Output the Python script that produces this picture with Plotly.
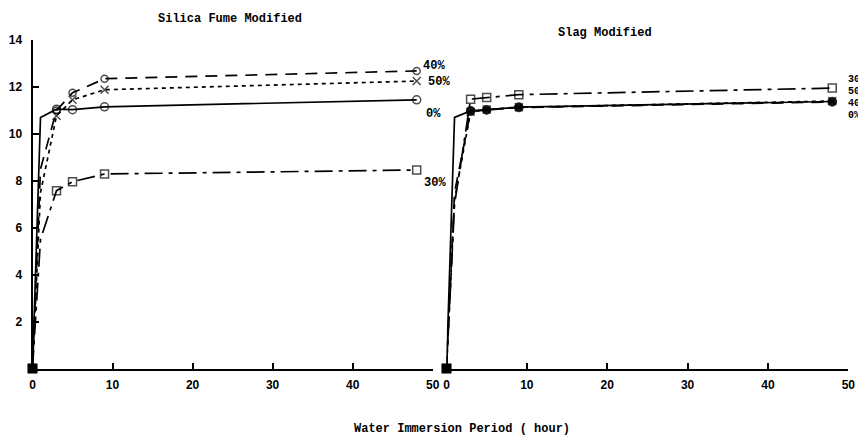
import plotly.graph_objects as go

# ---- data ----
hours = [0, 1, 3, 5, 9, 48]

# Silica Fume Modified
sf_0 = [0, 10.7, 11.05, 11.03, 11.15, 11.45]
sf_30 = [0, 5.5, 7.58, 7.96, 8.29, 8.46]
sf_40 = [0, 8.5, 11.0, 11.75, 12.35, 12.68]
sf_50 = [0, 7.5, 10.77, 11.45, 11.88, 12.25]

# Slag Modified
sl_0 = [0, 10.7, 10.98, 11.03, 11.14, 11.38]
sl_30 = [0, 7.0, 11.48, 11.55, 11.67, 11.95]
sl_40 = [0, 7.5, 10.96, 11.02, 11.12, 11.36]
sl_50 = [0, 7.2, 10.94, 11.04, 11.13, 11.40]

x_ticks = [0, 10, 20, 30, 40, 50]
y_ticks = [2, 4, 6, 8, 10, 12, 14]

labels_left = ["0%", "30%", "40%", "50%"]
labels_right = ["30%", "50%", "40%", "0%"]

W, H = 866, 441
OFF = 8  # page body margin
FONT = "Liberation Sans, Arial, sans-serif"
MONO = "Liberation Mono, DejaVu Sans Mono, monospace"

def px_x(p):
    return (p - OFF) / W

def px_y(p):
    return 1 - (p - OFF) / H

fig = go.Figure()

def add(x, y, dash, sym, size, xa, name):
    n = len(x)
    syms = ["square", "circle"] + [sym] * (n - 2)
    sizes = [8, 0] + [size] * (n - 2)
    fig.add_trace(go.Scatter(
        x=x, y=y, mode="lines+markers", name=name,
        line=dict(color="black", width=1.7, dash=dash),
        marker=dict(symbol=syms, size=sizes, color="black",
                    line=dict(color="black", width=1.5)),
        xaxis=xa, yaxis="y", cliponaxis=False, showlegend=False,
    ))

DASH = "12px,8px"
DOT = "4px,4px"
DASHDOT = "18px,6px,4px,6px"

add(hours, sf_30, DASHDOT, "square-open", 8, "x", "SF 30%")
add(hours, sf_50, DOT, "x-thin-open", 8, "x", "SF 50%")
add(hours, sf_40, DASH, "circle-open", 7, "x", "SF 40%")
add(hours, sf_0, "solid", "circle-open", 8, "x", "SF 0%")

add(hours, sl_30, DASHDOT, "square-open", 8, "x2", "SL 30%")
add(hours, sl_50, DOT, "x-thin-open", 8, "x2", "SL 50%")
add(hours, sl_40, DASH, "circle", 8, "x2", "SL 40%")
add(hours, sl_0, "solid", "circle", 8, "x2", "SL 0%")

axis_common = dict(
    range=[0, 50], tickvals=x_ticks, ticks="inside", ticklen=6, tickwidth=2,
    tickcolor="black", showline=True, linecolor="black", linewidth=2,
    showgrid=False, zeroline=False, automargin=False, ticklabelstandoff=4,
    tickfont=dict(family=FONT, size=12, color="black", weight="bold"),
)

fig.update_layout(
    width=W, height=H, autosize=False,
    margin=dict(l=0, r=0, t=0, b=0, pad=0),
    paper_bgcolor="white", plot_bgcolor="white",
    xaxis=dict(domain=[px_x(32.5), px_x(432.7)], anchor="y", **axis_common),
    xaxis2=dict(domain=[px_x(446.5), px_x(848.3)], anchor="y", **axis_common),
    yaxis=dict(domain=[px_y(368.5), px_y(40)], range=[0, 14], tickvals=y_ticks,
               ticks="inside", ticklen=6, tickwidth=2, tickcolor="black",
               showline=True, linecolor="black", linewidth=2, showgrid=False,
               zeroline=False, ticklabelstandoff=6, automargin=False,
               tickfont=dict(family=FONT, size=12, color="black", weight="bold")),
)

ann = []
left_pos = {"40%": (48.6, 12.9), "50%": (49.1, 12.2), "0%": (48.9, 10.85), "30%": (48.7, 7.9)}
for lab in labels_left:
    x, y = left_pos[lab]
    ann.append(dict(x=x, y=y, xref="x", yref="y", text=lab, showarrow=False,
                    xanchor="left", yanchor="middle",
                    font=dict(family=MONO, size=12, color="black", weight="bold")))
right_pos = {"30%": 12.3, "50%": 11.8, "40%": 11.3, "0%": 10.8}
for lab in labels_right:
    ann.append(dict(x=49.7, y=right_pos[lab], xref="x2", yref="y", text=lab,
                    showarrow=False, xanchor="left", yanchor="middle",
                    font=dict(family=MONO, size=10, color="black", weight="bold")))

ann.append(dict(x=px_x(230), y=px_y(19), xref="paper", yref="paper",
                text="Silica Fume Modified", showarrow=False,
                xanchor="center", yanchor="middle",
                font=dict(family=MONO, size=12, color="black", weight="bold")))
ann.append(dict(x=px_x(605), y=px_y(33), xref="paper", yref="paper",
                text="Slag Modified", showarrow=False,
                xanchor="center", yanchor="middle",
                font=dict(family=MONO, size=12, color="black", weight="bold")))
ann.append(dict(x=px_x(462), y=px_y(429), xref="paper", yref="paper",
                text="Water Immersion Period ( hour)", showarrow=False,
                xanchor="center", yanchor="middle",
                font=dict(family=MONO, size=12, color="black", weight="bold")))

fig.update_layout(annotations=ann)
fig.write_html("out.html")
